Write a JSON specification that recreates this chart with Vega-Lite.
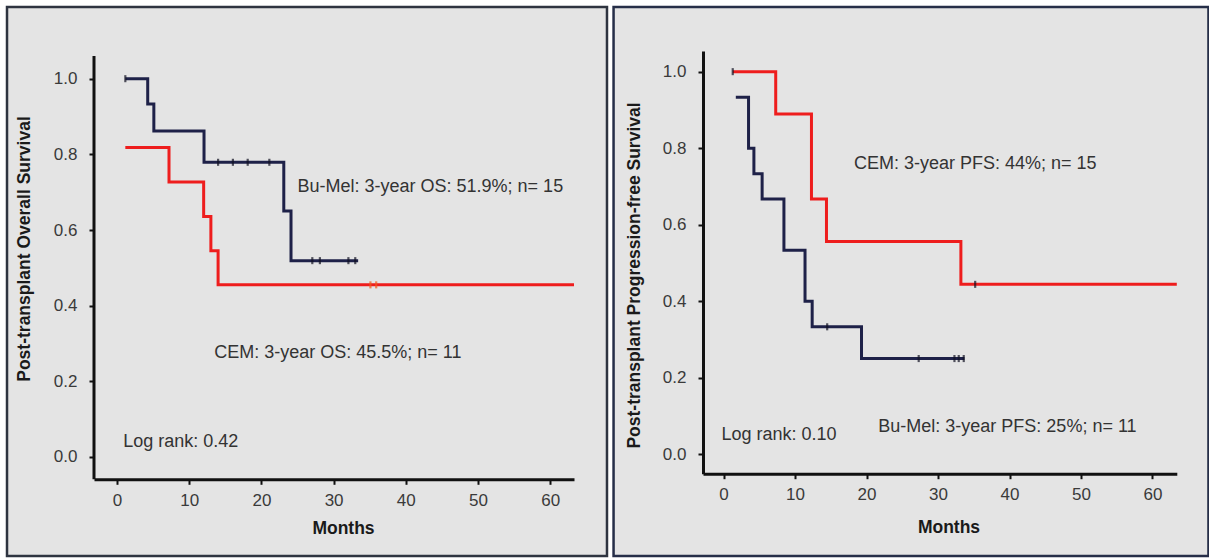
{
  "$schema": "https://vega.github.io/schema/vega-lite/v6.json",
  "padding": {"left": 5, "top": 5, "right": 0, "bottom": 0},
  "background": "white",
  "spacing": 3,
  "config": {
    "view": {"stroke": null},
    "axis": {
      "grid": false,
      "domainColor": "#111111",
      "domainWidth": 3,
      "tickColor": "#111111",
      "tickWidth": 2,
      "tickSize": 5,
      "labelFont": "Liberation Sans",
      "labelFontSize": 17,
      "labelColor": "#3a3a3a",
      "titleFont": "Liberation Sans",
      "titleFontSize": 17.5,
      "titleFontWeight": "bold",
      "titleColor": "#1a1a1a"
    },
    "text": {"font": "Liberation Sans", "fontSize": 18, "color": "#333333", "align": "left", "baseline": "middle"}
  },
  "datasets": {
    "os": [
      {"series": "Bu-Mel", "month": 1.15, "surv": 1.0},
      {"series": "Bu-Mel", "month": 4.25, "surv": 0.933},
      {"series": "Bu-Mel", "month": 5.1, "surv": 0.862},
      {"series": "Bu-Mel", "month": 12.05, "surv": 0.779},
      {"series": "Bu-Mel", "month": 23.1, "surv": 0.65},
      {"series": "Bu-Mel", "month": 24.1, "surv": 0.519},
      {"series": "Bu-Mel", "month": 33.4, "surv": 0.519},
      {"series": "CEM", "month": 1.15, "surv": 0.818},
      {"series": "CEM", "month": 7.2, "surv": 0.727},
      {"series": "CEM", "month": 12.0, "surv": 0.636},
      {"series": "CEM", "month": 13.0, "surv": 0.545},
      {"series": "CEM", "month": 14.0, "surv": 0.455},
      {"series": "CEM", "month": 63.3, "surv": 0.455}
    ],
    "osCensor": [
      {"series": "Bu-Mel", "month": 1.15, "surv": 1.0},
      {"series": "Bu-Mel", "month": 14.0, "surv": 0.779},
      {"series": "Bu-Mel", "month": 16.05, "surv": 0.779},
      {"series": "Bu-Mel", "month": 18.1, "surv": 0.779},
      {"series": "Bu-Mel", "month": 21.1, "surv": 0.779},
      {"series": "Bu-Mel", "month": 27.05, "surv": 0.519},
      {"series": "Bu-Mel", "month": 28.1, "surv": 0.519},
      {"series": "Bu-Mel", "month": 32.05, "surv": 0.519},
      {"series": "Bu-Mel", "month": 33.0, "surv": 0.519},
      {"series": "CEM", "month": 35.1, "surv": 0.455},
      {"series": "CEM", "month": 35.9, "surv": 0.455}
    ],
    "osText": [
      {"label": "Bu-Mel: 3-year OS: 51.9%; n= 15", "month": 25.0, "surv": 0.714},
      {"label": "CEM: 3-year OS: 45.5%; n= 11", "month": 13.46, "surv": 0.276},
      {"label": "Log rank: 0.42", "month": 0.86, "surv": 0.04}
    ],
    "pfs": [
      {"series": "CEM", "month": 1.29, "surv": 1.0},
      {"series": "CEM", "month": 7.3, "surv": 0.889},
      {"series": "CEM", "month": 12.3, "surv": 0.667},
      {"series": "CEM", "month": 14.4, "surv": 0.556},
      {"series": "CEM", "month": 33.2, "surv": 0.444},
      {"series": "CEM", "month": 63.4, "surv": 0.444},
      {"series": "Bu-Mel", "month": 1.72, "surv": 0.933},
      {"series": "Bu-Mel", "month": 3.5, "surv": 0.8},
      {"series": "Bu-Mel", "month": 4.25, "surv": 0.733},
      {"series": "Bu-Mel", "month": 5.4, "surv": 0.667},
      {"series": "Bu-Mel", "month": 8.45, "surv": 0.533},
      {"series": "Bu-Mel", "month": 11.4, "surv": 0.4},
      {"series": "Bu-Mel", "month": 12.4, "surv": 0.333},
      {"series": "Bu-Mel", "month": 19.3, "surv": 0.25},
      {"series": "Bu-Mel", "month": 33.7, "surv": 0.25}
    ],
    "pfsCensor": [
      {"series": "CEM", "month": 1.29, "surv": 1.0},
      {"series": "CEM", "month": 35.2, "surv": 0.444},
      {"series": "Bu-Mel", "month": 14.5, "surv": 0.333},
      {"series": "Bu-Mel", "month": 27.3, "surv": 0.25},
      {"series": "Bu-Mel", "month": 32.3, "surv": 0.25},
      {"series": "Bu-Mel", "month": 32.9, "surv": 0.25},
      {"series": "Bu-Mel", "month": 33.6, "surv": 0.25}
    ],
    "pfsText": [
      {"label": "CEM: 3-year PFS: 44%; n= 15", "month": 18.25, "surv": 0.758},
      {"label": "Bu-Mel: 3-year PFS: 25%; n= 11", "month": 21.65, "surv": 0.07},
      {"label": "Log rank: 0.10", "month": -0.28, "surv": 0.05}
    ]
  },
  "hconcat": [
    {
      "width": 480,
      "height": 428.3,
      "layer": [
        {
          "data": {"values": [{}]},
          "mark": {"type": "rect", "fill": "#e4e4e4", "stroke": "#2e3440", "strokeWidth": 2.5},
          "encoding": {
            "x": {"datum": -15.24, "type": "quantitative"},
            "x2": {"datum": 67.87},
            "y": {"datum": -0.2617, "type": "quantitative"},
            "y2": {"datum": 1.1895}
          }
        },
        {
          "data": {"name": "os"},
          "mark": {"type": "line", "interpolate": "step-after", "strokeWidth": 3},
          "encoding": {
            "x": {"field": "month", "type": "quantitative", "scale": {"domain": [-3.19, 63.3], "nice": false, "zero": false},
              "axis": {"zindex": 2, "values": [0, 10, 20, 30, 40, 50, 60], "title": "Months", "titleX": 249, "titleY": 49.4, "titleBaseline": "middle", "titleAlign": "center", "labelPadding": 8}},
            "y": {"field": "surv", "type": "quantitative", "scale": {"domain": [-0.059, 1.0732], "nice": false, "zero": false},
              "axis": {"zindex": 2, "values": [0, 0.2, 0.4, 0.6, 0.8, 1.0], "format": ".1f", "domain": false, "title": "Post-transplant Overall Survival", "titleX": -69.5, "titleY": 197.5, "titleAngle": 270, "titleBaseline": "middle", "titleAlign": "center", "labelPadding": 12}},
            "color": {"field": "series", "type": "nominal", "scale": {"domain": ["Bu-Mel", "CEM"], "range": ["#1e2148", "#ee1d1d"]}, "legend": null}
          }
        },
        {
          "data": {"values": [{}]},
          "mark": {"type": "rule", "stroke": "#111111", "strokeWidth": 3},
          "encoding": {
            "x": {"datum": -3.19, "type": "quantitative"},
            "y": {"datum": -0.059, "type": "quantitative"},
            "y2": {"datum": 1.06}
          }
        },
        {
          "data": {"name": "osCensor"},
          "mark": {"type": "point", "shape": "M0,-1L0,1", "size": 50, "filled": false, "strokeWidth": 2.2},
          "encoding": {
            "x": {"field": "month", "type": "quantitative"},
            "y": {"field": "surv", "type": "quantitative"},
            "stroke": {"field": "series", "type": "nominal", "scale": {"domain": ["Bu-Mel", "CEM"], "range": ["#111122", "#f05a1e"]}, "legend": null}
          }
        },
        {
          "data": {"name": "osText"},
          "mark": {"type": "text"},
          "encoding": {
            "x": {"field": "month", "type": "quantitative"},
            "y": {"field": "surv", "type": "quantitative"},
            "text": {"field": "label"}
          }
        }
      ]
    },
    {
      "width": 473.8,
      "height": 422.7,
      "layer": [
        {
          "data": {"values": [{}]},
          "mark": {"type": "rect", "fill": "#e4e4e4", "stroke": "#262e48", "strokeWidth": 2.5},
          "encoding": {
            "x": {"datum": -15.38, "type": "quantitative"},
            "x2": {"datum": 67.83},
            "y": {"datum": -0.266, "type": "quantitative"},
            "y2": {"datum": 1.169}
          }
        },
        {
          "data": {"name": "pfs"},
          "mark": {"type": "line", "interpolate": "step-after", "strokeWidth": 3},
          "encoding": {
            "x": {"field": "month", "type": "quantitative", "scale": {"domain": [-2.87, 63.4], "nice": false, "zero": false},
              "axis": {"zindex": 2, "values": [0, 10, 20, 30, 40, 50, 60], "title": "Months", "titleX": 245.5, "titleY": 53.3, "titleBaseline": "middle", "titleAlign": "center", "labelPadding": 8}},
            "y": {"field": "surv", "type": "quantitative", "scale": {"domain": [-0.051, 1.054], "nice": false, "zero": false},
              "axis": {"zindex": 2, "values": [0, 0.2, 0.4, 0.6, 0.8, 1.0], "format": ".1f", "title": "Post-transplant Progression-free Survival", "titleX": -68.5, "titleY": 224, "titleAngle": 270, "titleBaseline": "middle", "titleAlign": "center", "labelPadding": 12}},
            "color": {"field": "series", "type": "nominal", "scale": {"domain": ["Bu-Mel", "CEM"], "range": ["#2a2a38", "#ee1d1d"]}, "legend": null}
          }
        },
        {
          "data": {"name": "pfsCensor"},
          "mark": {"type": "point", "shape": "M0,-1L0,1", "size": 50, "filled": false, "strokeWidth": 2.2, "stroke": "#111122"},
          "encoding": {
            "x": {"field": "month", "type": "quantitative"},
            "y": {"field": "surv", "type": "quantitative"}
          }
        },
        {
          "data": {"name": "pfsText"},
          "mark": {"type": "text"},
          "encoding": {
            "x": {"field": "month", "type": "quantitative"},
            "y": {"field": "surv", "type": "quantitative"},
            "text": {"field": "label"}
          }
        }
      ]
    }
  ]
}
